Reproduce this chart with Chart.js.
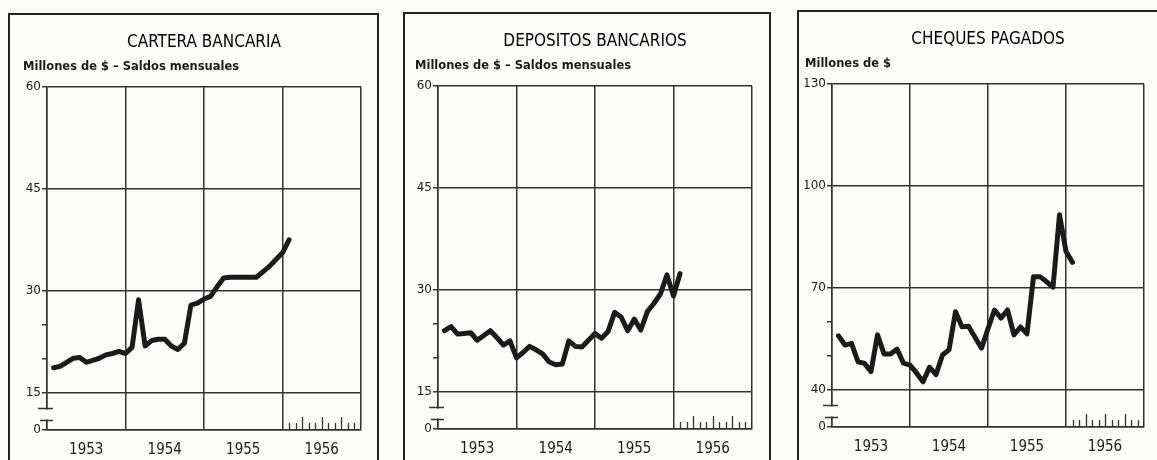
<!DOCTYPE html>
<html lang="es">
<head>
<meta charset="utf-8">
<title>Cartera bancaria, depósitos bancarios y cheques pagados 1953-1956</title>
<script src="https://cdn.jsdelivr.net/npm/chart.js@4/dist/chart.umd.min.js"></script>
<style>
    html, body { margin: 0; padding: 0; background: #fdfdfb; }
    body { width: 1157px; height: 460px; position: relative; overflow: hidden; }
    .marco { position: absolute; border: 2px solid #222; border-bottom: none; box-sizing: border-box; height: 470px; }
    canvas { position: absolute; }
</style>
</head>
<body>
<div class="marco" style="left:8px;top:13px;width:371px"></div>
<div class="marco" style="left:403px;top:12px;width:368px"></div>
<div class="marco" style="left:797px;top:10px;width:366px"></div>
<canvas id="grafico01" width="371" height="447" style="left:8px;top:13px"></canvas>
<canvas id="grafico02" width="368" height="448" style="left:403px;top:12px"></canvas>
<canvas id="grafico03" width="360" height="450" style="left:797px;top:10px"></canvas>
<script>
// Años del eje X (cada uno ocupa 12 meses)
var anios = ['1953', '1954', '1955', '1956'];
// Saldos a fin de mes: primer dato = fin de enero de 1953
var primerMes = 1;

// Millones de $ - saldos mensuales, ene 1953 a ene 1956
var carteraBancaria = [18.7, 18.9, 19.5, 20.1, 20.2, 19.5, 19.8, 20.1, 20.6, 20.8, 21.1, 20.8,
    21.7, 28.7, 21.9, 22.7, 22.9, 22.9, 21.9, 21.4, 22.3, 27.9, 28.2, 28.8,
    29.2, 30.6, 31.9, 32.0, 32.0, 32.0, 32.0, 32.0, 32.8, 33.6, 34.6, 35.6, 37.5];
var depositosBancarios = [24.0, 24.6, 23.5, 23.6, 23.7, 22.6, 23.3, 24.0, 23.0, 21.9, 22.5, 20.0,
    20.8, 21.7, 21.2, 20.6, 19.4, 19.0, 19.1, 22.5, 21.7, 21.6, 22.6, 23.6,
    22.9, 23.9, 26.7, 26.0, 24.0, 25.7, 24.1, 26.8, 28.0, 29.4, 32.2, 29.1, 32.4];
// Millones de $
var chequesPagados = [55.9, 53.2, 53.7, 48.3, 47.8, 45.4, 56.2, 50.6, 50.6, 52.0, 47.9, 47.3,
    45.0, 42.4, 46.7, 44.5, 50.3, 51.8, 63.0, 58.6, 58.7, 55.5, 52.3, 58.0,
    63.5, 61.1, 63.5, 56.2, 58.5, 56.5, 73.3, 73.3, 71.8, 70.2, 91.5, 80.7, 77.5];

// Ticks del eje Y (el "0" va en el corte del eje)
var ticksCartera = [15, 30, 45, 60];
var menoresCartera = [20, 25];
var ticksDepositos = [15, 30, 45, 60];
var menoresDepositos = [20, 25];
var ticksCheques = [40, 70, 100, 130];
var menoresCheques = [50, 60];

var TINTA = '#1b1b1b';
var REJILLA = '#333333';
var FONDO = '#fdfdfb';
var ANGOSTA = "'Liberation Sans Narrow', 'DejaVu Sans Condensed', 'Arial Narrow', sans-serif";

(function () {

    grafico('grafico01', 'CARTERA BANCARIA', 'Millones de $ \u2013 Saldos mensuales',
        carteraBancaria, ticksCartera, menoresCartera, { left: 15, right: 18, yw: 24, xh: 30 });
    grafico('grafico02', 'DEPOSITOS BANCARIOS', 'Millones de $ \u2013 Saldos mensuales',
        depositosBancarios, ticksDepositos, menoresDepositos, { left: 12, right: 19, yw: 23, xh: 31 });
    grafico('grafico03', 'CHEQUES PAGADOS', 'Millones de $',
        chequesPagados, ticksCheques, menoresCheques, { left: 8, right: 13, yw: 27, xh: 33 });

    function grafico(id, titulo, subtitulo, valores, ticks, menores, pad) {
        // el "0" se dibuja 37px bajo la primera línea (343px de área)
        var r = 37 / 343;
        var base = (ticks[0] - r * ticks[ticks.length - 1]) / (1 - r);
        var meses = anios.length * 12;

        var puntos = valores.map(function (v, i) {
            return { x: primerMes + i, y: v };
        });

        var corteEje = {
            id: 'corteEje',
            afterDraw: function (chart) {
                var ctx = chart.ctx;
                var area = chart.chartArea;
                var ys = chart.scales.y;
                var xs = chart.scales.x;
                var yPrim = ys.getPixelForValue(ticks[0]);
                var y1 = Math.round(yPrim + 0.4 * (area.bottom - yPrim)) + 0.5;
                var y2 = Math.round(yPrim + 0.73 * (area.bottom - yPrim)) + 0.5;
                ctx.save();
                ctx.fillStyle = FONDO;
                ctx.fillRect(area.left - 3, y1 + 1, 6, y2 - y1 - 2);
                ctx.strokeStyle = REJILLA;
                ctx.lineWidth = 1.5;
                ctx.beginPath();
                ctx.moveTo(area.left - 9, y1); ctx.lineTo(area.left + 6, y1);
                ctx.moveTo(area.left - 7, y2); ctx.lineTo(area.left + 6, y2);
                ctx.stroke();
                // marcas mensuales del último año
                ctx.lineWidth = 1.3;
                ctx.beginPath();
                for (var m = meses - 11; m < meses; m++) {
                    var px = Math.round(xs.getPixelForValue(m)) + 0.5;
                    var largo = (m % 3 === 0) ? 13 : 7;
                    ctx.moveTo(px, area.bottom);
                    ctx.lineTo(px, area.bottom - largo);
                }
                ctx.stroke();
                ctx.restore();
            }
        };

        var ctx = document.getElementById(id).getContext('2d');
        new Chart(ctx, {
            type: 'line',
            data: {
                datasets: [{
                    data: puntos,
                    borderColor: TINTA,
                    borderWidth: 5,
                    borderJoinStyle: 'round',
                    borderCapStyle: 'round',
                    pointRadius: 0,
                    tension: 0,
                    fill: false
                }]
            },
            plugins: [corteEje],
            options: {
                responsive: false,
                animation: false,
                events: [],
                layout: {
                    padding: { left: pad.left, right: pad.right, top: 0, bottom: 0 }
                },
                plugins: {
                    legend: { display: false },
                    tooltip: { enabled: false },
                    title: {
                        display: true,
                        text: titulo,
                        fullSize: false,
                        color: '#000',
                        font: { family: ANGOSTA, size: 17, weight: 'normal', lineHeight: 1.2 },
                        padding: { top: 19.8, bottom: 3 }
                    },
                    subtitle: {
                        display: true,
                        text: subtitulo,
                        align: 'start',
                        color: '#1a1a1a',
                        font: { family: "'DejaVu Sans', sans-serif", size: 11.5, weight: 'bold', lineHeight: 1.2 },
                        padding: { top: 3.7, bottom: 13 }
                    }
                },
                scales: {
                    x: {
                        type: 'linear',
                        min: 0,
                        max: meses,
                        afterBuildTicks: function (s) {
                            var t = [];
                            for (var v = 0; v <= meses; v += 6) t.push({ value: v });
                            s.ticks = t;
                        },
                        afterFit: function (s) { s.height = pad.xh; },
                        border: { display: true, color: REJILLA, width: 1.5 },
                        grid: {
                            drawTicks: false,
                            lineWidth: 1.5,
                            color: function (c) {
                                return (c.tick && c.tick.value % 12 === 0) ? REJILLA : 'rgba(0,0,0,0)';
                            }
                        },
                        ticks: {
                            autoSkip: false,
                            maxRotation: 0,
                            padding: 11,
                            color: '#1a1a1a',
                            font: { family: ANGOSTA, size: 15 },
                            callback: function (v) {
                                return (v % 12 === 6) ? anios[(v - 6) / 12] : '';
                            }
                        }
                    },
                    y: {
                        type: 'linear',
                        min: base,
                        max: ticks[ticks.length - 1],
                        afterBuildTicks: function (s) {
                            s.ticks = [base].concat(menores, ticks).sort(function (a, b) { return a - b; })
                                .map(function (v) { return { value: v }; });
                        },
                        afterFit: function (s) { s.width = pad.yw; },
                        border: { display: true, color: REJILLA, width: 1.5 },
                        grid: {
                            drawTicks: true,
                            tickLength: 5,
                            tickColor: REJILLA,
                            tickWidth: 1.5,
                            lineWidth: 1.5,
                            color: function (c) {
                                return (c.tick && menores.indexOf(c.tick.value) >= 0) ? 'rgba(0,0,0,0)' : REJILLA;
                            }
                        },
                        ticks: {
                            autoSkip: false,
                            padding: 1,
                            color: '#1a1a1a',
                            font: { family: "'DejaVu Sans', sans-serif", size: 12 },
                            callback: function (v) {
                                if (v === base) return '0';
                                if (menores.indexOf(v) >= 0) return '';
                                return String(v);
                            }
                        }
                    }
                }
            }
        });
    }

})();
</script>
</body>
</html>
